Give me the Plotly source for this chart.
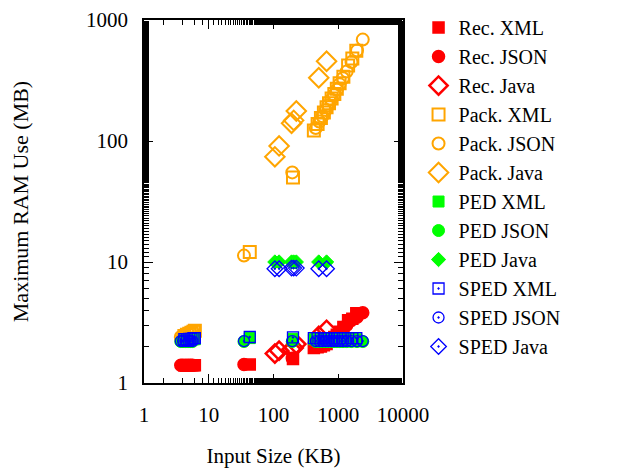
import plotly.graph_objects as go

# ---- data ----
xml_size = [4.2, 4.6, 5.0, 5.4, 5.8, 6.1, 43, 200, 420, 480, 540, 600, 660, 720, 790, 870, 950, 1050, 1200, 1420, 1650, 1900]
json_size = [3.7, 4.0, 4.4, 4.8, 5.2, 5.6, 35, 195, 450, 510, 570, 640, 700, 780, 860, 950, 1050, 1180, 1350, 1600, 1950, 2390]
java_size = [105, 122, 190, 205, 225, 500, 660]

rec_xml = [1.4, 1.4, 1.4, 1.4, 1.4, 1.4, 1.42, 1.58, 1.95, 1.97, 2.0, 2.05, 2.1, 2.2, 2.3, 2.4, 2.5, 2.65, 2.9, 3.3, 3.4, 3.77]
rec_json = [1.4, 1.4, 1.4, 1.4, 1.4, 1.4, 1.42, 1.6, 1.97, 2.0, 2.05, 2.1, 2.15, 2.25, 2.35, 2.45, 2.55, 2.75, 3.0, 3.3, 3.5, 3.8]
rec_java = [1.75, 1.85, 1.9, 1.95, 2.1, 2.45, 2.75]

pack_xml = [2.45, 2.5, 2.55, 2.6, 2.65, 2.7, 12.1, 50, 122, 138, 155, 172, 190, 205, 225, 245, 270, 300, 340, 420, 480, 558]
pack_json = [2.4, 2.45, 2.5, 2.55, 2.6, 2.65, 11.3, 55, 128, 145, 160, 180, 197, 220, 240, 265, 295, 330, 375, 450, 560, 689]
pack_java = [74, 91, 140, 148, 177, 333, 456]

ped_xml = [2.25, 2.25, 2.28, 2.28, 2.3, 2.3, 2.35, 2.32, 2.3, 2.32, 2.3, 2.32, 2.3, 2.32, 2.3, 2.3, 2.32, 2.3, 2.32, 2.3, 2.32, 2.3]
ped_json = [2.2, 2.2, 2.2, 2.2, 2.2, 2.2, 2.2, 2.2, 2.2, 2.2, 2.2, 2.2, 2.2, 2.2, 2.2, 2.2, 2.2, 2.2, 2.2, 2.2, 2.2, 2.2]
ped_java = [10.0, 10.0, 10.0, 10.0, 10.0, 10.0, 10.0]

sped_xml = [2.3, 2.3, 2.32, 2.32, 2.35, 2.35, 2.4, 2.38, 2.35, 2.35, 2.35, 2.35, 2.35, 2.35, 2.35, 2.35, 2.35, 2.35, 2.35, 2.35, 2.35, 2.35]
sped_json = [2.22, 2.22, 2.22, 2.22, 2.22, 2.22, 2.22, 2.22, 2.22, 2.22, 2.22, 2.22, 2.22, 2.22, 2.22, 2.22, 2.22, 2.22, 2.22, 2.22, 2.22, 2.22]
sped_java = [8.8, 8.8, 8.9, 8.9, 8.9, 8.8, 8.8]

x_ticks = [1, 10, 100, 1000, 10000]
y_ticks = [1, 10, 100, 1000]

RED, ORANGE, GREEN, BLUE = "#ff0000", "#ffa500", "#00ff00", "#0000ff"

series = [
    ("Rec. XML", xml_size, rec_xml, RED, "square", 11, 1.5),
    ("Rec. JSON", json_size, rec_json, RED, "circle", 12, 1.5),
    ("Rec. Java", java_size, rec_java, RED, "diamond-open", 14, 2.5),
    ("Pack. XML", xml_size, pack_xml, ORANGE, "square-open", 12, 2),
    ("Pack. JSON", json_size, pack_json, ORANGE, "circle-open", 12, 2),
    ("Pack. Java", java_size, pack_java, ORANGE, "diamond-open", 15, 2),
    ("PED XML", xml_size, ped_xml, GREEN, "square", 11, 1),
    ("PED JSON", json_size, ped_json, GREEN, "circle", 12, 1),
    ("PED Java", java_size, ped_java, GREEN, "diamond", 11, 1),
    ("SPED XML", xml_size, sped_xml, BLUE, "square-open-dot", 11, 1.3),
    ("SPED JSON", json_size, sped_json, BLUE, "circle-open-dot", 11, 1.3),
    ("SPED Java", java_size, sped_java, BLUE, "diamond-open-dot", 12, 1.3),
]

fig = go.Figure()
for name, xs, ys, col, sym, size, lw in series:
    fig.add_trace(go.Scatter(
        x=xs, y=ys, mode="markers", name=name,
        marker=dict(symbol=sym, size=size, color=col, line=dict(color=col, width=lw)),
    ))

FONT = "Liberation Serif"
axis_common = dict(
    type="log", showgrid=False, zeroline=False, automargin=False,
    showline=True, linecolor="black", linewidth=1.5, mirror="ticks",
    ticks="inside", ticklen=9, tickwidth=1.2, tickcolor="black",
    ticklabeloverflow="allow",
    tickfont=dict(family=FONT, size=21, color="black"),
    minor=dict(ticks="inside", ticklen=5, tickwidth=1, tickcolor="black", showgrid=False),
)

# the page body adds an 8px offset, so the figure is 8px smaller on each axis
fig.update_layout(
    width=610, height=463,
    margin=dict(l=136, r=215, t=12, b=88, autoexpand=False),
    paper_bgcolor="white", plot_bgcolor="white",
    font=dict(family=FONT, size=21, color="black"),
    xaxis=dict(axis_common, range=[0, 4], tickvals=x_ticks, ticktext=[str(v) for v in x_ticks],
               ticklabelstandoff=12,
               title=dict(text="Input Size (KB)", standoff=22, font=dict(family=FONT, size=21))),
    yaxis=dict(axis_common, range=[0, 3], tickvals=y_ticks, ticktext=[str(v) for v in y_ticks],
               ticklabelstandoff=10,
               title=dict(text="Maximum RAM Use (MB)", standoff=52, font=dict(family=FONT, size=22))),
    showlegend=True,
    legend=dict(x=1.06, y=1.033, xanchor="left", yanchor="top",
                font=dict(family=FONT, size=20, color="black"),
                bgcolor="rgba(0,0,0,0)", tracegroupgap=0, itemwidth=30, maxheight=1.0),
)

fig.write_html("out.html")
